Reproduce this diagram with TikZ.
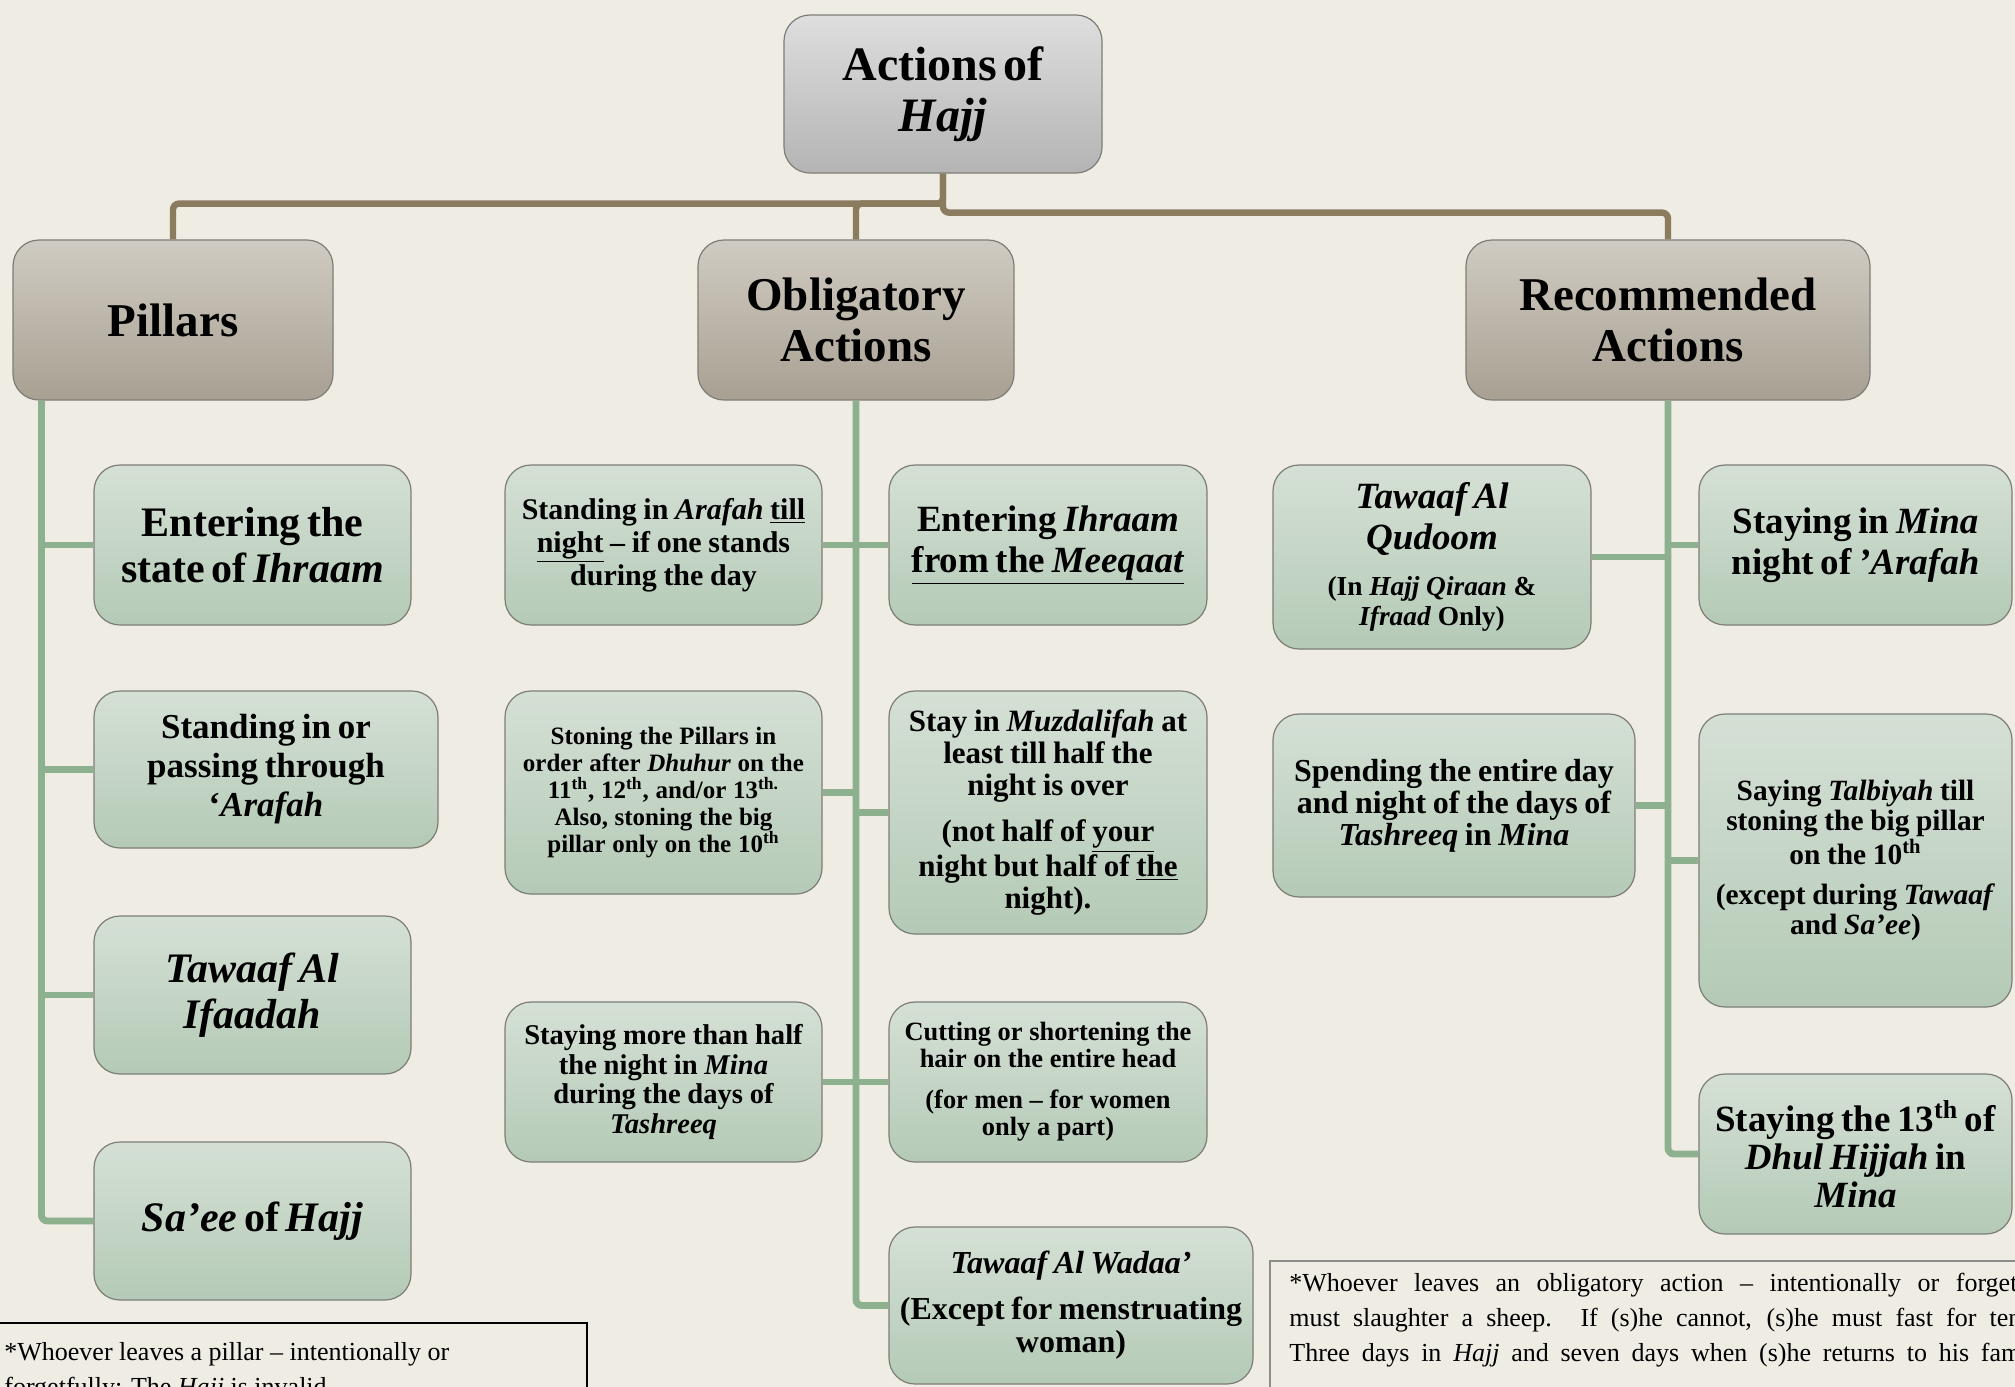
\documentclass[tikz,border=0pt]{standalone}
\usepackage{fontspec}
\setmainfont{Liberation Serif}
\definecolor{bgc}{RGB}{239,236,228}
\definecolor{toptop}{RGB}{222,222,222}
\definecolor{topbot}{RGB}{180,180,180}
\definecolor{midtop}{RGB}{208,203,194}
\definecolor{midbot}{RGB}{168,160,146}
\definecolor{lowtop}{RGB}{213,224,213}
\definecolor{lowbot}{RGB}{180,202,182}
\definecolor{boxborder}{RGB}{125,125,120}
\definecolor{brownc}{RGB}{139,123,95}
\definecolor{greenc}{RGB}{141,176,143}
\definecolor{notegray}{RGB}{140,140,140}
\newcommand\fsz[2]{\fontsize{#1}{#2}\selectfont}
\newcommand\hajjbox[7]{%
  \pgfmathsetmacro\bbcx{(#2+#4)/2}%
  \pgfmathsetmacro\bbcy{(#3+#5)/2}%
  \pgfmathsetmacro\bbw{(#4-#2)*0.5}%
  \pgfmathsetmacro\bbh{(#5-#3)*0.5}%
  \pgfmathsetmacro\bbtw{(#4-#2)*0.5-6}%
  \node[#6, minimum width=\bbw pt, minimum height=\bbh pt, text width=\bbtw pt] (#1) at (\bbcx,\bbcy) {#7\par};}
\tikzset{
  hbox/.style={draw=boxborder, line width=0.6pt, rounded corners=13pt, align=center, inner sep=0pt, font=\bfseries},
  lvlone/.style={hbox, top color=toptop, bottom color=topbot},
  lvltwo/.style={hbox, top color=midtop, bottom color=midbot},
  lvlthree/.style={hbox, top color=lowtop, bottom color=lowbot},
  brownline/.style={draw=brownc, line width=3.2pt, rounded corners=3pt},
  greenline/.style={draw=greenc, line width=3.4pt, rounded corners=3pt},
  notetext/.style={inner sep=0pt, font=\fsz{13}{17.5}, anchor=base west}
}
\begin{document}
\begin{tikzpicture}[x=0.5pt,y=-0.5pt]
\useasboundingbox (0,0) rectangle (2015,1387);
\clip (0,0) rectangle (2015,1387);
\fill[bgc] (0,0) rectangle (2015,1387);

% top
\hajjbox{top}{784}{15}{1102}{173}{lvlone}{\fsz{24}{25.5}Actions of\\ \textit{Hajj}}
% level two
\hajjbox{pil}{13}{240}{333}{400}{lvltwo}{\fsz{23.5}{25.5}Pillars}
\hajjbox{obl}{698}{240}{1014}{400}{lvltwo}{\fsz{23.5}{25.5}Obligatory\\Actions}
\hajjbox{rec}{1466}{240}{1870}{400}{lvltwo}{\fsz{23.5}{25.5}Recommended\\Actions}

% pillars
\hajjbox{p1}{94}{465}{411}{625}{lvlthree}{\fsz{21}{23}Entering the\\state of \textit{Ihraam}}
\hajjbox{p2}{94}{691}{438}{848}{lvlthree}{\fsz{17.5}{19.5}Standing in or\\passing through\\‘\textit{Arafah}}
\hajjbox{p3}{94}{916}{411}{1074}{lvlthree}{\fsz{21}{23}\textit{Tawaaf Al}\\\textit{Ifaadah}}
\hajjbox{p4}{94}{1142}{411}{1300}{lvlthree}{\fsz{21}{23}\textit{Sa’ee} of \textit{Hajj}}

% obligatory
\hajjbox{o1}{505}{465}{822}{625}{lvlthree}{\fsz{15}{16.4}Standing in \textit{Arafah} \underline{till}\\\underline{night} – if one stands\\during the day}
\hajjbox{o2}{889}{465}{1207}{625}{lvlthree}{\fsz{18.5}{20.5}Entering \textit{Ihraam}\\\underline{from the \textit{Meeqaat}}}
\hajjbox{o3}{505}{691}{822}{894}{lvlthree}{\fsz{12.5}{13.5}Stoning the Pillars in\\order after \textit{Dhuhur} on the\\11\textsuperscript{th}, 12\textsuperscript{th}, and/or 13\textsuperscript{th.}\\Also, stoning the big\\pillar only on the 10\textsuperscript{th}}
\hajjbox{o4}{889}{691}{1207}{934}{lvlthree}{\fsz{15.5}{16}Stay in \textit{Muzdalifah} at\\least till half the\\night is over\par\vspace{7pt}(not half of \underline{your}\\night but half of \underline{the}\\night).}
\hajjbox{o5}{505}{1002}{822}{1162}{lvlthree}{\fsz{14.3}{14.8}Staying more than half\\the night in \textit{Mina}\\during the days of\\\textit{Tashreeq}}
\hajjbox{o6}{889}{1002}{1207}{1162}{lvlthree}{\fsz{13.2}{13.5}Cutting or shortening the\\hair on the entire head\par\vspace{7pt}(for men – for women\\only a part)}
\hajjbox{o7}{889}{1227}{1253}{1384}{lvlthree}{\fsz{16}{16.7}\textit{Tawaaf Al Wadaa’}\par\vspace{6pt}(Except for menstruating\\woman)}

% recommended
\hajjbox{r1}{1273}{465}{1591}{649}{lvlthree}{{\fsz{18.5}{20.5}\textit{Tawaaf Al}\\\textit{Qudoom}\par}\vspace{8pt}{\fsz{13.7}{14.8}(In \textit{Hajj Qiraan} \&\\\textit{Ifraad} Only)\par}}
\hajjbox{r2}{1699}{465}{2012}{625}{lvlthree}{\fsz{18.5}{20.5}Staying in \textit{Mina}\\night of \textit{'Arafah}}
\hajjbox{r3}{1273}{714}{1635}{897}{lvlthree}{\fsz{16}{16}Spending the entire day\\and night of the days of\\\textit{Tashreeq} in \textit{Mina}}
\hajjbox{r4}{1699}{714}{2012}{1007}{lvlthree}{\fsz{14.7}{15}Saying \textit{Talbiyah} till\\stoning the big pillar\\on the 10\textsuperscript{th}\par\vspace{5pt}(except during \textit{Tawaaf}\\and \textit{Sa’ee})}
\hajjbox{r5}{1699}{1074}{2012}{1234}{lvlthree}{\fsz{18.5}{19}Staying the 13\textsuperscript{th} of\\\textit{Dhul Hijjah} in\\\textit{Mina}}

% top connectors
\draw[brownline] (top.south) -- ++(0,30) -| (pil.north);
\draw[brownline] (top.south) ++(0,30) -| (obl.north);
\draw[brownline] (top.south) -- ++(0,39) -| (rec.north);

% pillars spine
\coordinate (pspine) at ([xshift=14.5pt]pil.south west);
\draw[greenline] (pspine) |- (p4.west);
\foreach \n in {p1,p2,p3} \draw[greenline] (pspine |- \n.west) -- (\n.west);

% obligatory spine
\draw[greenline] (obl.south) |- (o7.west);
\foreach \n in {o2,o4,o6} \draw[greenline] (obl.south |- \n.west) -- (\n.west);
\foreach \n in {o1,o3,o5} \draw[greenline] (obl.south |- \n.east) -- (\n.east);

% recommended spine
\draw[greenline] (rec.south) |- (r5.west);
\foreach \n in {r2,r4} \draw[greenline] (rec.south |- \n.west) -- (\n.west);
\foreach \n in {r1,r3} \draw[greenline] (rec.south |- \n.east) -- (\n.east);

% notes
\draw[black, line width=1.1pt] (-10,1323) rectangle (587,1440);
\node[notetext] (na) at (4,1360) {*Whoever leaves a pillar – intentionally or};
\node[notetext] (nb) at (4,1395) {forgetfully: The \textit{Hajj} is invalid.};

\draw[notegray, line width=0.9pt] (1270,1261) rectangle (2040,1440);
\node[notetext] (nc) at (1289,1291) {\makebox[364pt][s]{*Whoever leaves an obligatory action – intentionally or forget}};
\node[notetext] (nd) at (1289,1326) {\makebox[366pt][s]{must slaughter a sheep. If (s)he cannot, (s)he must fast for ten}};
\node[notetext] (ne) at (1289,1361) {\makebox[366pt][s]{Three days in \textit{Hajj} and seven days when (s)he returns to his fam}};
\end{tikzpicture}
\end{document}
